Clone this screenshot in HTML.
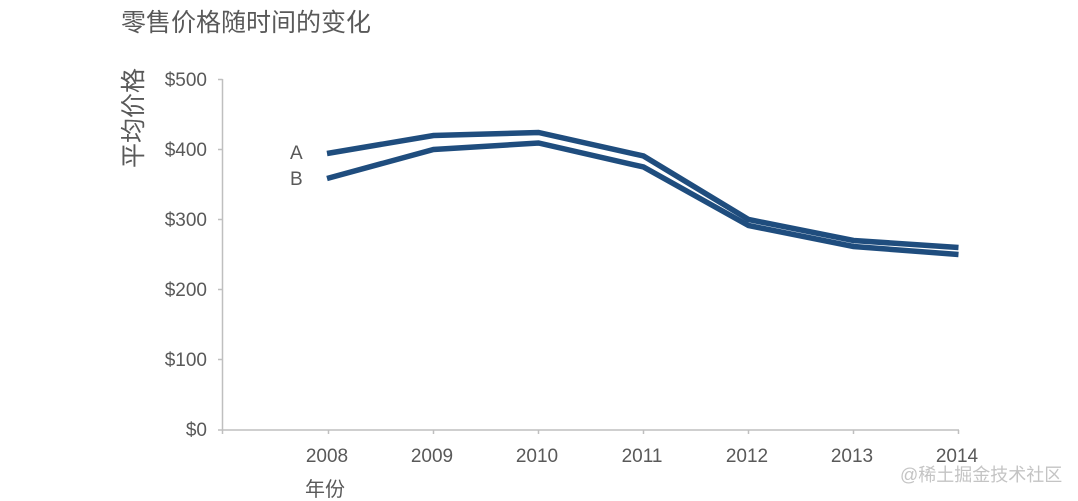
<!DOCTYPE html>
<html><head><meta charset="utf-8"><style>
html,body{margin:0;padding:0;background:#fff;}
svg{display:block;}
text{font-family:"Liberation Sans","Noto Sans CJK SC",sans-serif;fill:#595959;}
</style></head><body>
<svg width="1078" height="501" viewBox="0 0 1078 501" xmlns="http://www.w3.org/2000/svg">
<text x="121" y="31" font-size="25" fill="#595959">零售价格随时间的变化</text>
<text transform="translate(142,118) rotate(-90)" text-anchor="middle" font-size="25">平均价格</text>
<g stroke="#bfbfbf" stroke-width="1.5" fill="none">
<line x1="222.5" y1="79" x2="222.5" y2="430"/>
<line x1="218" y1="79.5" x2="222.5" y2="79.5"/>
<line x1="218" y1="149.5" x2="222.5" y2="149.5"/>
<line x1="218" y1="219.5" x2="222.5" y2="219.5"/>
<line x1="218" y1="289.5" x2="222.5" y2="289.5"/>
<line x1="218" y1="359.5" x2="222.5" y2="359.5"/>
<line x1="218" y1="430" x2="959" y2="430"/>
<line x1="222.5" y1="430" x2="222.5" y2="434"/>
<line x1="328.5" y1="430" x2="328.5" y2="434"/>
<line x1="433.5" y1="430" x2="433.5" y2="434"/>
<line x1="538.5" y1="430" x2="538.5" y2="434"/>
<line x1="643.5" y1="430" x2="643.5" y2="434"/>
<line x1="748.5" y1="430" x2="748.5" y2="434"/>
<line x1="853.5" y1="430" x2="853.5" y2="434"/>
<line x1="958.5" y1="430" x2="958.5" y2="434"/>
</g>
<g font-size="19" text-anchor="end">
<text x="207" y="86">$500</text>
<text x="207" y="156">$400</text>
<text x="207" y="226">$300</text>
<text x="207" y="296">$200</text>
<text x="207" y="366">$100</text>
<text x="207" y="436">$0</text>
</g>
<g font-size="19" text-anchor="middle">
<text x="327" y="462">2008</text>
<text x="432" y="462">2009</text>
<text x="537" y="462">2010</text>
<text x="642" y="462">2011</text>
<text x="747" y="462">2012</text>
<text x="852" y="462">2013</text>
<text x="957" y="462">2014</text>
</g>
<text x="305" y="496" font-size="20">年份</text>
<text x="290" y="159" font-size="19">A</text>
<text x="290" y="185" font-size="19">B</text>
<g fill="none" stroke="#1f4d7e" stroke-width="5.5" stroke-linejoin="miter" stroke-linecap="butt">
<polyline points="327,153.5 433.5,135.5 538.5,132.5 643.5,156 748.5,219.5 853.5,240.5 958.5,247.5"/>
<polyline points="327,178.5 433.5,149.5 538.5,143 643.5,167 748.5,225.5 853.5,246.5 958.5,254.5"/>
</g>
<text x="900" y="481" font-size="18" style="fill:#c4c4c4">@稀土掘金技术社区</text>
</svg>
</body></html>
